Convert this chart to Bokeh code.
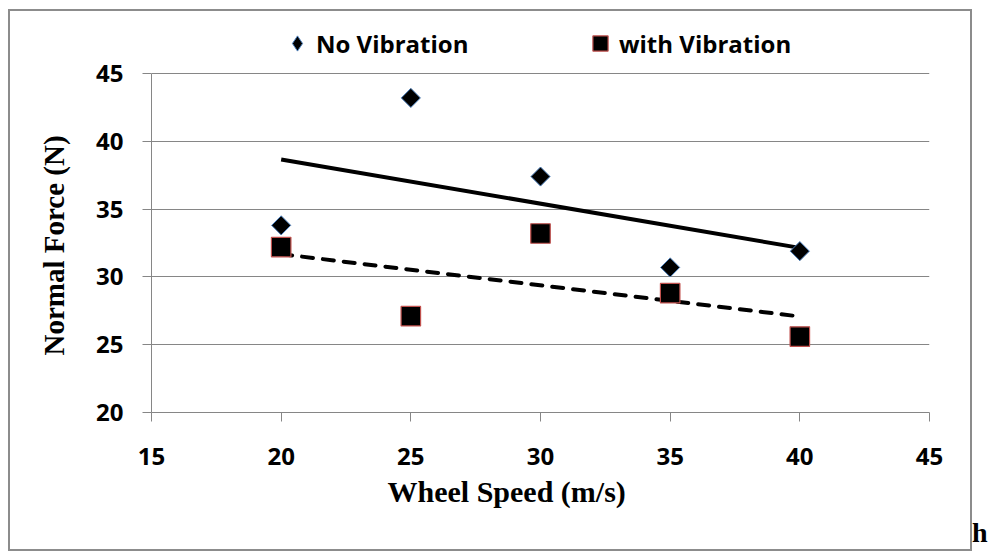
import numpy as np
from bokeh.plotting import figure
from bokeh.models import Range1d, FixedTicker, Legend, LegendItem, Title
from bokeh.embed import file_html
from bokeh.resources import INLINE

# ---- data ----
wheel_speed = [20, 25, 30, 35, 40]
no_vibration = [33.8, 43.2, 37.4, 30.7, 31.9]
with_vibration = [32.2, 27.1, 33.2, 28.8, 25.6]
x_ticks = [15, 20, 25, 30, 35, 40, 45]
y_ticks = [20, 25, 30, 35, 40, 45]
series_names = ["No Vibration", "with Vibration"]
x_title = "Wheel Speed (m/s)"
y_title = "Normal Force (N)"
corner_text = "h"

GRAY = "#868686"
BORDER = "#8c8c8c"
TICK_FONT = "Open Sans"
TITLE_FONT = "Liberation Serif"

W, H = 989, 552
FRAME_TOP, FRAME_BOTTOM = 12, 412   # canvas px
PLOT_TOP = 73                        # canvas px where the 45 line sits
px_per_unit = (FRAME_BOTTOM - PLOT_TOP) / (y_ticks[-1] - y_ticks[0])
y_end = y_ticks[-1] + (PLOT_TOP - FRAME_TOP) / px_per_unit

p = figure(width=W, height=H,
           x_range=Range1d(x_ticks[0], x_ticks[-1]),
           y_range=Range1d(y_ticks[0], y_end),
           output_backend="svg", toolbar_location=None,
           min_border_left=151, min_border_right=60,
           min_border_top=FRAME_TOP, min_border_bottom=H - FRAME_BOTTOM)
p.title.visible = False
p.outline_line_color = None
p.background_fill_alpha = 0
p.border_fill_alpha = 0

# outer chart-area border drawn as CSS background on the host element
g = f"linear-gradient({BORDER},{BORDER})"
p.styles = {
    "background": (f"{g} 8px 9px / 964px 2px no-repeat, "
                   f"{g} 8px 9px / 2px 542px no-repeat, "
                   f"{g} 970px 9px / 2px 542px no-repeat, "
                   f"{g} 8px 549px / 964px 2px no-repeat, white"),
}

# axes
p.xaxis.ticker = FixedTicker(ticks=x_ticks)
p.yaxis.ticker = FixedTicker(ticks=y_ticks)
p.yaxis.bounds = (y_ticks[0], y_ticks[-1])
for ax in (p.xaxis[0], p.yaxis[0]):
    ax.axis_line_color = GRAY
    ax.major_tick_line_color = GRAY
    ax.major_tick_out = 9
    ax.major_tick_in = 0
    ax.minor_tick_line_color = None
    ax.major_label_text_font = TICK_FONT
    ax.major_label_text_font_style = "bold"
    ax.major_label_text_font_size = "24px"
    ax.major_label_text_color = "black"
p.xaxis.major_label_standoff = 26
p.yaxis.major_label_standoff = 19

p.xgrid.grid_line_color = None
p.ygrid.ticker = FixedTicker(ticks=y_ticks)
p.ygrid.grid_line_color = GRAY
p.ygrid.grid_line_width = 1

# axis titles as side-panel titles (positioned like the original)
p.add_layout(Title(text=y_title, align="left", offset=57, standoff=48,
                   vertical_align="bottom",
                   text_font=TITLE_FONT, text_font_style="bold",
                   text_font_size="29px", text_color="black"), "left")
p.add_layout(Title(text=x_title, align="left", offset=236, standoff=14,
                   vertical_align="top",
                   text_font=TITLE_FONT, text_font_style="bold",
                   text_font_size="30px", text_color="black"), "below")
p.add_layout(Title(text=corner_text, align="right", offset=-58, standoff=0,
                   vertical_align="top",
                   text_font=TITLE_FONT, text_font_style="bold",
                   text_font_size="28px", text_color="black"), "below")

# trend lines (linear least squares fits, as in the original chart)
xs = np.array(wheel_speed, dtype=float)
xfit = np.array([xs.min(), xs.max()])
k1, b1 = np.polyfit(xs, no_vibration, 1)
k2, b2 = np.polyfit(xs, with_vibration, 1)
p.line(xfit, k1 * xfit + b1, line_color="black", line_width=4)
p.line(xfit, k2 * xfit + b2, line_color="black", line_width=4,
       line_dash="11 10", line_cap="round")

# points
r_no = p.scatter(wheel_speed, no_vibration, marker="square", size=13.5,
                 angle=np.pi / 4, fill_color="black",
                 line_color="#4a7ebb", line_width=1)
r_with = p.scatter(wheel_speed, with_vibration, marker="square", size=19.5,
                   fill_color="black", line_color="#c0504d", line_width=1.2)
# hidden diamond renderer used only as the legend swatch of the first series
r_no_key = p.scatter(wheel_speed, no_vibration, marker="diamond", size=18,
                     fill_color="black", line_color="#4a7ebb", line_width=1,
                     visible=False)

def make_legend(name, rend, glyph, loc, standoff):
    return Legend(items=[LegendItem(label=name, renderers=[rend])],
                  location=loc, orientation="horizontal",
                  glyph_width=glyph, glyph_height=glyph,
                  label_standoff=standoff, padding=0, margin=0,
                  border_line_color=None, background_fill_alpha=0,
                  inactive_fill_alpha=0,
                  label_text_font=TICK_FONT, label_text_font_style="bold",
                  label_text_font_size="24px", label_text_color="black")

p.add_layout(make_legend(series_names[0], r_no_key, 38, (127, 350), 0))
p.add_layout(make_legend(series_names[1], r_with, 38, (430, 350), 0))

open("out.html", "w").write(file_html(p, INLINE))
